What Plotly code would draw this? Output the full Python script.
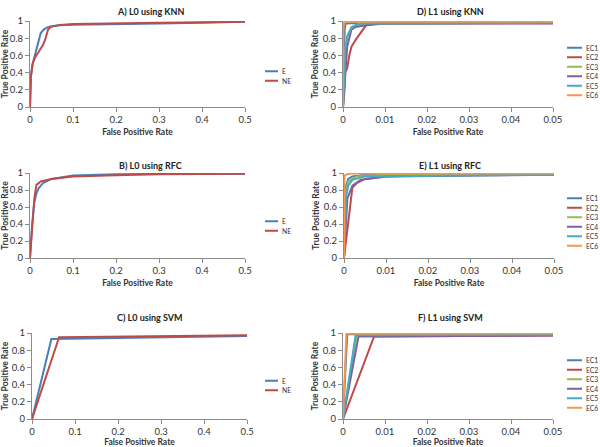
import plotly.graph_objects as go

# ---------------- DATA ----------------
# Panel A: L0 using KNN
A_E_x = [0, 0.002, 0.006, 0.012, 0.018, 0.021, 0.025, 0.032, 0.04, 0.05, 0.07, 0.1, 0.2, 0.3, 0.4, 0.5]
A_E_y = [0, 0.35, 0.5, 0.62, 0.72, 0.8, 0.86, 0.9, 0.925, 0.94, 0.95, 0.955, 0.96, 0.97, 0.98, 0.99]
A_NE_x = [0, 0.002, 0.006, 0.012, 0.02, 0.03, 0.035, 0.042, 0.05, 0.07, 0.1, 0.2, 0.3, 0.4, 0.5]
A_NE_y = [0, 0.35, 0.5, 0.58, 0.64, 0.72, 0.78, 0.9, 0.935, 0.955, 0.965, 0.975, 0.98, 0.985, 0.99]

# Panel B: L0 using RFC
B_E_x = [0, 0.005, 0.01, 0.015, 0.02, 0.03, 0.05, 0.1, 0.2, 0.3, 0.5]
B_E_y = [0, 0.4, 0.65, 0.76, 0.82, 0.88, 0.93, 0.97, 0.985, 0.99, 0.99]
B_NE_x = [0, 0.005, 0.01, 0.015, 0.025, 0.05, 0.1, 0.2, 0.3, 0.5]
B_NE_y = [0, 0.4, 0.7, 0.86, 0.9, 0.93, 0.96, 0.975, 0.985, 0.99]

# Panel C: L0 using SVM
C_E_x = [0, 0.045, 0.5]
C_E_y = [0, 0.93, 0.965]
C_NE_x = [0, 0.063, 0.5]
C_NE_y = [0, 0.95, 0.975]

L0_names = ["E", "NE"]
L1_names = ["EC1", "EC2", "EC3", "EC4", "EC5", "EC6"]

# Panel D: L1 using KNN
D_x = [
    [0, 0.0002, 0.0004, 0.0006, 0.002, 0.01, 0.05],
    [0, 0.0003, 0.0005, 0.001, 0.0015, 0.002, 0.003, 0.0045, 0.0055, 0.01, 0.05],
    [0, 0.0005, 0.001, 0.002, 0.004, 0.01, 0.05],
    [0, 0.0005, 0.001, 0.002, 0.003, 0.008, 0.05],
    [0, 0.0005, 0.001, 0.002, 0.003, 0.005, 0.05],
    [0, 0.0001, 0.0003, 0.05],
]
D_y = [
    [0, 0.6, 0.9, 0.97, 0.975, 0.975, 0.975],
    [0, 0.15, 0.4, 0.45, 0.6, 0.7, 0.78, 0.88, 0.95, 0.97, 0.975],
    [0, 0.6, 0.82, 0.93, 0.97, 0.975, 0.98],
    [0, 0.4, 0.7, 0.9, 0.93, 0.97, 0.975],
    [0, 0.65, 0.82, 0.92, 0.95, 0.97, 0.98],
    [0, 0.9, 0.99, 0.99],
]

# Panel E: L1 using RFC
E_x = [
    [0, 0.0005, 0.001, 0.002, 0.005, 0.05],
    [0, 0.0005, 0.002, 0.003, 0.005, 0.01, 0.02, 0.05],
    [0, 0.0005, 0.001, 0.003, 0.01, 0.05],
    [0, 0.0008, 0.002, 0.004, 0.01, 0.05],
    [0, 0.0005, 0.001, 0.002, 0.005, 0.05],
    [0, 0.0001, 0.001, 0.002, 0.05],
]
E_y = [
    [0, 0.85, 0.93, 0.96, 0.98, 0.985],
    [0, 0.2, 0.83, 0.88, 0.93, 0.96, 0.975, 0.98],
    [0, 0.8, 0.9, 0.96, 0.98, 0.985],
    [0, 0.7, 0.85, 0.92, 0.96, 0.98],
    [0, 0.72, 0.85, 0.92, 0.96, 0.98],
    [0, 0.97, 0.99, 0.995, 0.995],
]

# Panel F: L1 using SVM
F_x = [
    [0, 0.001, 0.05],
    [0, 0.0074, 0.05],
    [0, 0.0033, 0.05],
    [0, 0.0037, 0.05],
    [0, 0.003, 0.05],
    [0, 0.0008, 0.05],
]
F_y = [
    [0, 0.985, 0.985],
    [0, 0.96, 0.97],
    [0, 0.98, 0.98],
    [0, 0.96, 0.97],
    [0, 0.975, 0.98],
    [0, 0.99, 0.995],
]

L0_colors = ["#4a7ebb", "#be4b48"]
L1_colors = ["#4a7ebb", "#be4b48", "#98b954", "#7d60a0", "#46aac5", "#f79646"]

titles = ["A) L0 using KNN", "D) L1 using KNN",
          "B) L0 using RFC", "E) L1 using RFC",
          "C) L0 using SVM", "F) L1 using SVM"]

# ---------------- LAYOUT HELPERS ----------------
W, H = 600, 447
FONT = "Lato, 'Open Sans', sans-serif"
AXC = "#8c8c8c"

def px(x):
    return x / W

def py(y):
    return 1 - y / H

# plot-area pixel boxes: (left, right, top, bottom)
boxes = [
    (30, 245, 21, 107), (343, 553, 21, 107),
    (30, 245, 173, 258), (344, 554, 173, 258),
    (32, 247, 333, 419), (343, 553, 333, 419),
]
legend_centers = [76, 71.5, 226, 222, 385.5, 384]
title_y = [12, 12, 165, 165, 317, 317]

fig = go.Figure()
annotations = []
shapes = []

panels = [
    ([A_E_x, A_NE_x], [A_E_y, A_NE_y], L0_names, L0_colors),
    (D_x, D_y, L1_names, L1_colors),
    ([B_E_x, B_NE_x], [B_E_y, B_NE_y], L0_names, L0_colors),
    (E_x, E_y, L1_names, L1_colors),
    ([C_E_x, C_NE_x], [C_E_y, C_NE_y], L0_names, L0_colors),
    (F_x, F_y, L1_names, L1_colors),
]

layout = {}
for i, (xs, ys, names, colors) in enumerate(panels):
    n = i + 1
    xa = "x" if n == 1 else f"x{n}"
    ya = "y" if n == 1 else f"y{n}"
    for x, y, name, c in zip(xs, ys, names, colors):
        fig.add_trace(go.Scatter(x=x, y=y, name=name, mode="lines",
                                 line=dict(color=c, width=2),
                                 xaxis=xa, yaxis=ya, showlegend=False))
    l, r, t, b = boxes[i]
    right_col = (i % 2 == 1)
    xrange = [0, 0.05] if right_col else [0, 0.5]
    dtick = 0.01 if right_col else 0.1
    xkey = "xaxis" if n == 1 else f"xaxis{n}"
    ykey = "yaxis" if n == 1 else f"yaxis{n}"
    layout[xkey] = dict(domain=[px(l), px(r)], anchor=ya, range=xrange, dtick=dtick,
                        automargin=False,
                        showgrid=False, zeroline=False, showline=True, linecolor=AXC,
                        linewidth=1, ticks="outside", ticklen=4, tickcolor=AXC,
                        tickfont=dict(size=9.5, color="#333"),
                        title=dict(text="<b>False Positive Rate</b>",
                                   font=dict(size=8.5, color="#333"), standoff=4))
    layout[ykey] = dict(domain=[py(b), py(t)], anchor=xa, range=[0, 1], dtick=0.2,
                        automargin=False,
                        showgrid=False, zeroline=False, showline=True, linecolor=AXC,
                        linewidth=1, ticks="outside", ticklen=4, tickcolor=AXC,
                        tickfont=dict(size=9.5, color="#333"),
                        title=dict(text="<b>True Positive Rate</b>",
                                   font=dict(size=8.5, color="#333"), standoff=2))
    # panel title
    cx = 450 if right_col else 150
    annotations.append(dict(text=f"<b>{titles[i]}</b>", x=px(cx), y=py(title_y[i]),
                            xref="paper", yref="paper", showarrow=False,
                            font=dict(size=9, color="#222", family=FONT),
                            xanchor="center", yanchor="middle"))
    # legend (drawn in paper space)
    k = len(names)
    step = 9.5
    lx0, lx1 = (567, 582) if right_col else (265, 278)
    for j, (name, c) in enumerate(zip(names, colors)):
        yy = legend_centers[i] + (j - (k - 1) / 2) * step
        shapes.append(dict(type="line", xref="paper", yref="paper",
                           x0=px(lx0), x1=px(lx1), y0=py(yy), y1=py(yy),
                           line=dict(color=c, width=2)))
        annotations.append(dict(text=name, x=px(lx1 + 1.5), y=py(yy), xref="paper",
                                yref="paper", showarrow=False, xanchor="left",
                                yanchor="middle",
                                font=dict(size=6.8, color="#333", family=FONT)))

fig.update_layout(width=W, height=H, margin=dict(l=0, r=0, t=0, b=0),
                  paper_bgcolor="white", plot_bgcolor="white",
                  font=dict(family=FONT, color="#333"),
                  annotations=annotations, shapes=shapes, showlegend=False,
                  **layout)

fig.write_html("out.html", config={"displayModeBar": False},
               post_script="document.body.style.margin='0';document.body.style.overflow='hidden';")
